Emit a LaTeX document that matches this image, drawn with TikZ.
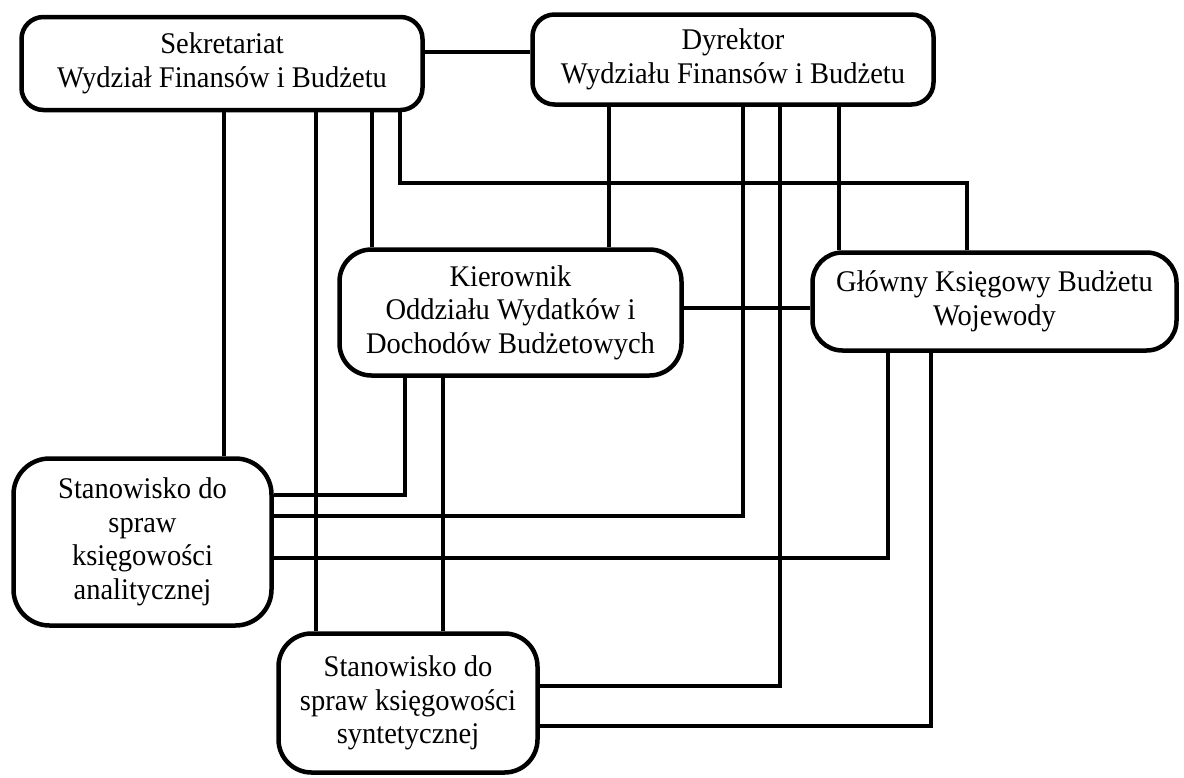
\documentclass[tikz,border=0pt]{standalone}
\usepackage{fontspec}
\setmainfont{Liberation Serif}[FakeStretch=0.95]
\begin{document}
\begin{tikzpicture}[x=1pt,y=-1pt,
  unit/.style={draw, line width=4.5pt, fill=white, inner sep=0pt, align=center,
    font=\fontsize{30}{33.5}\selectfont},
  link/.style={line width=4pt}]
\useasboundingbox (0,0) rectangle (1184,777);

% organisational units
\node[unit, rounded corners=22pt, minimum width=401pt, minimum height=93pt] (sek) at (222,63.5)
  {Sekretariat\\Wydział Finansów i Budżetu};
\node[unit, rounded corners=22pt, minimum width=401pt, minimum height=90pt] (dyr) at (733,59.5)
  {Dyrektor\\Wydziału Finansów i Budżetu};
\node[unit, rounded corners=32pt, minimum width=342pt, minimum height=126pt] (kier) at (510.5,312.5)
  {Kierownik\\Oddziału Wydatków i\\Dochodów Budżetowych};
\node[unit, rounded corners=30pt, minimum width=364pt, minimum height=98pt] (glow) at (994.5,301.5)
  {Główny Księgowy Budżetu\\Wojewody};
\node[unit, rounded corners=36pt, minimum width=258pt, minimum height=167pt] (anal) at (142.5,542)
  {Stanowisko do\\spraw\\księgowości\\analitycznej};
\node[unit, rounded corners=33pt, minimum width=259pt, minimum height=139pt] (synt) at (408,703)
  {Stanowisko do\\spraw księgowości\\syntetycznej};

% routing columns and rows
\coordinate (x224) at (224,0);
\coordinate (x316) at (316,0);
\coordinate (x372) at (372,0);
\coordinate (x400) at (400,0);
\coordinate (x405) at (405,0);
\coordinate (x443) at (443,0);
\coordinate (x609) at (609,0);
\coordinate (x743) at (743,0);
\coordinate (x780) at (780,0);
\coordinate (x839) at (839,0);
\coordinate (x888) at (888,0);
\coordinate (x931) at (931,0);
\coordinate (x967) at (967,0);
\coordinate (y52) at (0,52);
\coordinate (y183) at (0,183);
\coordinate (y308) at (0,308);
\coordinate (y495) at (0,495);
\coordinate (y516) at (0,516);
\coordinate (y558) at (0,558);
\coordinate (y686) at (0,686);
\coordinate (y726) at (0,726);

% connections
\draw[link] (sek.east |- y52) -- (dyr.west |- y52);
\draw[link] (sek.south -| x224) -- (anal.north -| x224);
\draw[link] (sek.south -| x316) -- (synt.north -| x316);
\draw[link] (sek.south -| x372) -- (kier.north -| x372);
\draw[link] (sek.south -| x400) -- (x400 |- y183) -- (x967 |- y183) -- (glow.north -| x967);
\draw[link] (dyr.south -| x609) -- (kier.north -| x609);
\draw[link] (dyr.south -| x743) -- (x743 |- y516) -- (anal.east |- y516);
\draw[link] (dyr.south -| x780) -- (x780 |- y686) -- (synt.east |- y686);
\draw[link] (dyr.south -| x839) -- (glow.north -| x839);
\draw[link] (kier.east |- y308) -- (glow.west |- y308);
\draw[link] (kier.south -| x405) -- (x405 |- y495) -- (anal.east |- y495);
\draw[link] (kier.south -| x443) -- (synt.north -| x443);
\draw[link] (glow.south -| x888) -- (x888 |- y558) -- (anal.east |- y558);
\draw[link] (glow.south -| x931) -- (x931 |- y726) -- (synt.east |- y726);
\end{tikzpicture}
\end{document}
